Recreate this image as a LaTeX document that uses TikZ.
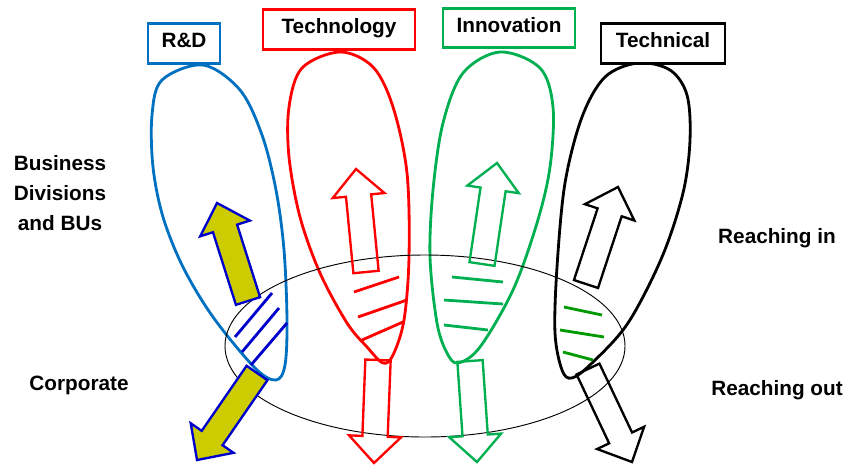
\documentclass[tikz,border=0pt]{standalone}
\usepackage{fontspec}
\setmainfont{Liberation Sans}
\usepackage{xcolor}
\usetikzlibrary{calc}

\definecolor{rdblue}{HTML}{0070C0}
\definecolor{innogreen}{HTML}{00B050}
\definecolor{hatchgreen}{HTML}{009900}
\definecolor{deepblue}{HTML}{0000CC}
\definecolor{mustard}{HTML}{CCCC00}

\newcommand{\lblfont}{\fontsize{17.7}{25.5}\selectfont\bfseries}

% block arrow from #2 (foot of the shaft) to #3 (tip)
\newcommand{\blockarrow}[3]{%
    \coordinate (hb) at ($(#3)!0.8cm!(#2)$);
    \draw[#1] ($(#2)!0.38cm!90:(#3)$) -- ($(hb)!0.38cm!-90:(#2)$)
        -- ($(hb)!0.78cm!-90:(#2)$) -- (#3)
        -- ($(hb)!0.78cm!90:(#2)$) -- ($(hb)!0.38cm!90:(#2)$)
        -- ($(#2)!0.38cm!-90:(#3)$) -- cycle;}

\tikzset{
    tag/.style={draw, line width=2.4pt, fill=white, inner sep=0pt,
        minimum width=#1, minimum height=1.18cm,
        text height=0.716em, text depth=0pt, font=\lblfont},
    side/.style={anchor=base, align=center, font=\lblfont},
    loop/.style={line width=2.4pt},
    hatch/.style={line width=2.4pt},
    hollow/.style={line width=2pt},
    filled/.style={line width=2pt, draw=deepblue, fill=mustard}
}

\begin{document}
\begin{tikzpicture}[x=0.03cm, y=-0.03cm]
    \useasboundingbox (0,0) rectangle (848,466);

    % the four loops
    \draw[loop, rdblue] plot[smooth cycle, tension=0.55] coordinates {
        (203,65) (240,90) (262,135) (276,190) (284,250) (287,320) (285,365)
        (276,380) (255,368) (213,317) (183,267) (163,217) (153,167) (152,115) (162,80)};
    \draw[loop, red] plot[smooth cycle, tension=0.55] coordinates {
        (340,52) (373,67) (393,107) (407,173) (409,257) (404,320) (393,355)
        (383,363) (367,347) (347,323) (320,273) (300,217) (289,157) (289,107) (302,68)};
    \draw[loop, innogreen] plot[smooth cycle, tension=0.55] coordinates {
        (500,52) (540,68) (553,107) (550,167) (537,223) (513,290) (480,347)
        (458,363) (447,353) (437,323) (430,257) (433,190) (443,123) (463,73)};
    \draw[loop, black] plot[smooth cycle, tension=0.55] coordinates {
        (638,63) (670,70) (687,95) (690,140) (683,193) (662,257) (628,323)
        (592,363) (572,378) (562,370) (555,333) (557,267) (565,183) (582,117) (605,77)};

    \draw[line width=0.8pt] (425,346) ellipse [x radius=6cm, y radius=2.73cm];

    % hatching
    \draw[hatch, deepblue]
        (235,337) -- (272,293)
        (242,352) -- (279,308)
        (251,365) -- (287,323);
    \draw[hatch, red]
        (354,292) -- (399,277)
        (358,317) -- (407,300)
        (362,340) -- (403,322);
    \draw[hatch, innogreen]
        (452,277) -- (503,282)
        (444,300) -- (503,304)
        (444,325) -- (488,330);
    \draw[hatch, hatchgreen]
        (564,307) -- (602,315)
        (560,330) -- (604,337)
        (563,352) -- (593,360);

    % arrows
    \coordinate (tecUpA) at (366,272);
    \coordinate (tecUpB) at (356,169);
    \coordinate (tecDnA) at (378,360);
    \coordinate (tecDnB) at (374,463);
    \coordinate (innUpA) at (482,264);
    \coordinate (innUpB) at (497,163);
    \coordinate (innDnA) at (470,361);
    \coordinate (innDnB) at (477,462);
    \coordinate (thcUpA) at (586,284);
    \coordinate (thcUpB) at (618,187);
    \coordinate (thcDnA) at (588,369);
    \coordinate (thcDnB) at (632,462);
    \coordinate (rdUpA) at (248,301);
    \coordinate (rdUpB) at (217,203);
    \coordinate (rdDnA) at (257,373);
    \coordinate (rdDnB) at (197,460);

    \blockarrow{hollow, red}{tecUpA}{tecUpB}
    \blockarrow{hollow, red}{tecDnA}{tecDnB}
    \blockarrow{hollow, innogreen}{innUpA}{innUpB}
    \blockarrow{hollow, innogreen}{innDnA}{innDnB}
    \blockarrow{hollow, black}{thcUpA}{thcUpB}
    \blockarrow{hollow, black}{thcDnA}{thcDnB}
    \blockarrow{filled}{rdUpA}{rdUpB}
    \blockarrow{filled}{rdDnA}{rdDnB}

    % headings
    \node[tag=2.16cm, draw=rdblue] (rd) at (184,43.5) {R\&D};
    \node[tag=4.56cm, draw=red] (tech) at (339,29.5) {Technology};
    \node[tag=3.96cm, draw=innogreen] (inno) at (509,28) {Innovation};
    \node[tag=3.72cm, draw=black] (tcl) at (663,43.5) {Technical};

    % side labels
    \node[side] (bus) at (60,230) {Business\\Divisions\\and BUs};
    \node[side] (corp) at (79,390) {Corporate};
    \node[side] (rin) at (777,243) {Reaching in};
    \node[side] (rout) at (777,395) {Reaching out};
\end{tikzpicture}
\end{document}
